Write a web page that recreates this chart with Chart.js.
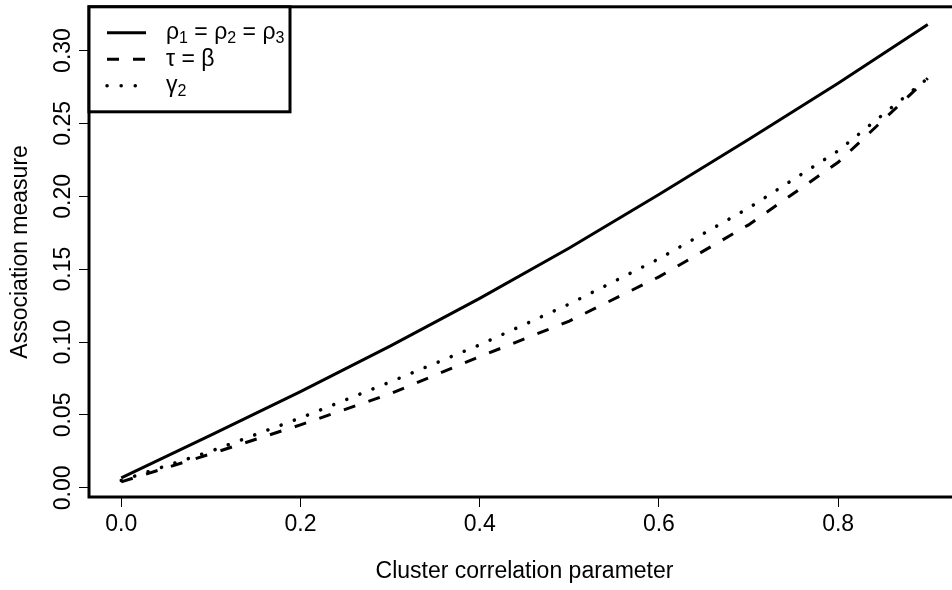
<!DOCTYPE html>
<html>
<head>
<meta charset="utf-8">
<script src="https://cdn.jsdelivr.net/npm/chart.js@4/dist/chart.umd.min.js"></script>
<style>
  html, body { margin: 0; padding: 0; background: #fff; overflow: hidden; }
  #wrap { width: 952px; height: 590px; overflow: hidden; }
  canvas { display: block; }
</style>
</head>
<body>
<div id="wrap"><canvas id="chart" width="962" height="590"></canvas></div>
<script>
// data
const clusterCorr = [0.0, 0.1, 0.2, 0.3, 0.4, 0.5, 0.6, 0.7, 0.8, 0.9];
const rhoVals   = [0.0068, 0.0362, 0.0660, 0.0972, 0.1300, 0.1645, 0.2012, 0.2390, 0.2775, 0.3178];
const tauVals   = [0.0041, 0.0233, 0.0432, 0.0645, 0.0900, 0.1144, 0.1447, 0.1804, 0.2233, 0.2810];
const gammaVals = [0.0050, 0.0251, 0.0480, 0.0726, 0.0981, 0.1261, 0.1571, 0.1919, 0.2312, 0.2810];

const xTicks = [0.0, 0.2, 0.4, 0.6, 0.8];
const yTicks = [0.00, 0.05, 0.10, 0.15, 0.20, 0.25, 0.30];

// legend text pieces: [text, isSubscript]
const legendLabels = [
  [['ρ', 0], ['1', 1], [' = ', 0], ['ρ', 0], ['2', 1], [' = ', 0], ['ρ', 0], ['3', 1]],
  [['τ = β', 0]],
  [['γ', 0], ['2', 1]]
];

const FAMILY = "'Liberation Sans', Arial, Helvetica, sans-serif";
const FS = 23;

const pts = (ys) => clusterCorr.map((x, i) => ({ x: x, y: ys[i] }));

// R-style box round the plot and boxed legend top-left
const framePlugin = {
  id: 'rframe',
  afterDraw(chart) {
    const { ctx, chartArea: a } = chart;
    ctx.save();
    ctx.strokeStyle = '#000';
    ctx.lineWidth = 3;
    ctx.setLineDash([]);
    ctx.strokeRect(a.left, a.top, a.right - a.left, a.bottom - a.top);

    const bx = a.left, by = a.top, bw = 201, bh = 105;
    ctx.fillStyle = '#fff';
    ctx.fillRect(bx, by, bw, bh);
    ctx.strokeRect(bx, by, bw, bh);

    chart.data.datasets.forEach((ds, i) => {
      const y = by + 26 + i * 26.5;
      ctx.beginPath();
      ctx.lineWidth = ds.borderWidth;
      ctx.lineCap = ds.borderCapStyle || 'butt';
      ctx.setLineDash(ds.borderDash || []);
      ctx.moveTo(bx + 18, y);
      ctx.lineTo(bx + 57, y);
      ctx.stroke();
      ctx.setLineDash([]);

      let x = bx + 77;
      ctx.fillStyle = '#000';
      ctx.textBaseline = 'middle';
      ctx.textAlign = 'left';
      legendLabels[i].forEach(([t, sub]) => {
        ctx.font = (sub ? 16 : FS) + 'px ' + FAMILY;
        ctx.fillText(t, x, sub ? y + 6 : y);
        x += ctx.measureText(t).width;
      });
    });
    ctx.restore();
  }
};

const tickFont = { family: FAMILY, size: FS };

new Chart(document.getElementById('chart'), {
  type: 'line',
  data: {
    datasets: [
      { label: 'rho', data: pts(rhoVals), borderColor: '#000', borderWidth: 3,
        borderCapStyle: 'butt', borderDash: [] },
      { label: 'tau', data: pts(tauVals), borderColor: '#000', borderWidth: 3,
        borderCapStyle: 'butt', borderDash: [12, 14] },
      { label: 'gamma', data: pts(gammaVals), borderColor: '#000', borderWidth: 3.5,
        borderCapStyle: 'round', borderDash: [0.1, 14] }
    ]
  },
  options: {
    responsive: false,
    animation: false,
    devicePixelRatio: 1,
    layout: { padding: { top: 1, right: 2, left: 0, bottom: 0 } },
    elements: { point: { radius: 0 }, line: { tension: 0 } },
    plugins: { legend: { display: false }, tooltip: { enabled: false } },
    scales: {
      x: {
        type: 'linear',
        min: -0.036,
        max: 0.936,
        afterBuildTicks: s => { s.ticks = xTicks.map(v => ({ value: v })); },
        afterFit: s => { s.height = 93; },
        grid: { drawOnChartArea: false, drawTicks: true, tickLength: 10, color: '#000', lineWidth: 1 },
        border: { display: false },
        ticks: { color: '#000', font: tickFont, padding: 4, maxRotation: 0, autoSkip: false,
                 callback: v => v.toFixed(1) },
        title: { display: true, text: 'Cluster correlation parameter', color: '#000',
                 font: tickFont, padding: { top: 0, bottom: 5 } }
      },
      y: {
        type: 'linear',
        min: -0.0063,
        max: 0.330,
        afterBuildTicks: s => { s.ticks = yTicks.map(v => ({ value: v })); },
        afterFit: s => { s.width = 89; },
        grid: { drawOnChartArea: false, drawTicks: true, tickLength: 10, color: '#000', lineWidth: 1 },
        border: { display: false },
        ticks: { color: '#000', font: tickFont, minRotation: 90, maxRotation: 90, autoSkip: false,
                 crossAlign: 'center', padding: -7, callback: v => v.toFixed(2) },
        title: { display: true, text: 'Association measure', color: '#000',
                 font: tickFont, padding: { top: 7, bottom: 0 } }
      }
    }
  },
  plugins: [framePlugin]
});
</script>
</body>
</html>
